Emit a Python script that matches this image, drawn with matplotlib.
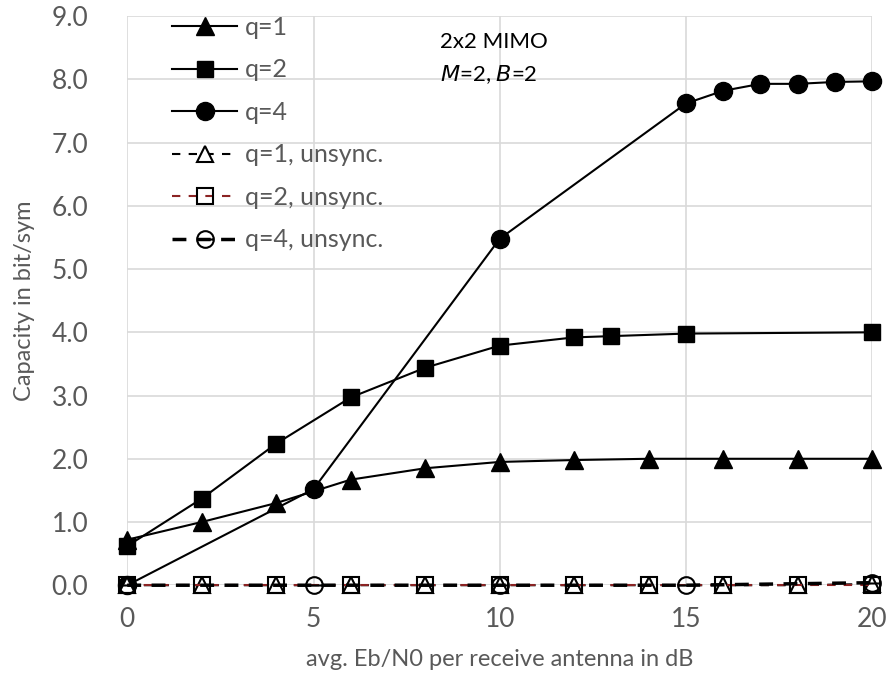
import matplotlib
matplotlib.use("Agg")
import matplotlib.pyplot as plt
from matplotlib.path import Path

plt.rcParams['font.family'] = ['Lato', 'DejaVu Sans']

# data
x_q1 = [0, 2, 4, 6, 8, 10, 12, 14, 16, 18, 20]
y_q1 = [0.72, 1.0, 1.3, 1.67, 1.85, 1.95, 1.98, 2.0, 2.0, 2.0, 2.0]
x_q2 = [0, 2, 4, 6, 8, 10, 12, 13, 15, 20]
y_q2 = [0.62, 1.37, 2.24, 2.97, 3.44, 3.79, 3.92, 3.94, 3.98, 4.0]
x_q4 = [0, 5, 10, 15, 16, 17, 18, 19, 20]
y_q4 = [0.0, 1.52, 5.48, 7.62, 7.82, 7.93, 7.93, 7.96, 7.97]

x_un = [0, 2, 4, 6, 8, 10, 12, 14, 16, 18, 20]
y_q1_un = [0, 0, 0, 0, 0, 0, 0, 0, 0, 0, 0.02]
y_q2_un = [0, 0, 0, 0, 0, 0, 0, 0, 0, 0, 0.0]
x_q4_un = [0, 5, 10, 15, 20]
y_q4_un = [0, 0, 0, 0, 0.04]

grey = '#595959'

# circle with a horizontal bar (hollow)
bar = Path([(-1, 0), (1, 0)], [Path.MOVETO, Path.LINETO])
circ_bar = Path.make_compound_path(Path.unit_circle(), bar)

fig = plt.figure(figsize=(8.9, 6.75), dpi=100)
ax = fig.add_axes([0.143, 0.133, 0.837, 0.843])

ax.plot(x_q1, y_q1, '-', color='black', lw=1.5, marker='^', ms=13, label='q=1', clip_on=False, zorder=5)
ax.plot(x_q2, y_q2, '-', color='black', lw=1.5, marker='s', ms=12, label='q=2', clip_on=False, zorder=5)
ax.plot(x_q4, y_q4, '-', color='black', lw=1.5, marker='o', ms=13, label='q=4', clip_on=False, zorder=5)
ax.plot(x_un, y_q1_un, color='black', lw=1.5, ls=(0, (4, 4)), marker='^', ms=12, mfc='white',
        mec='black', mew=1.5, label='q=1, unsync.', clip_on=False, zorder=6)
ax.plot(x_un, y_q2_un, color='#8b2323', lw=1.5, ls=(0, (4, 4)), marker='s', ms=12, mfc='none',
        mec='black', mew=1.5, label='q=2, unsync.', clip_on=False, zorder=6)
ax.plot(x_q4_un, y_q4_un, color='black', lw=2.5, ls=(0, (4, 3)), marker=circ_bar, ms=12,
        mfc='none', mec='black', mew=1.5, label='q=4, unsync.', clip_on=False, zorder=6)

ax.set_xlim(0, 20)
ax.set_ylim(0, 9)
ax.set_xticks([0, 5, 10, 15, 20])
ax.set_yticks([i for i in range(10)])
ax.set_yticklabels(['%.1f' % i for i in range(10)])
ax.grid(True, color='#d9d9d9', lw=1.2)
ax.set_axisbelow(True)
for s in ax.spines.values():
    s.set_visible(False)
ax.tick_params(axis='y', length=0, labelsize=19, labelcolor=grey, pad=28)
ax.tick_params(axis='x', length=0, labelsize=19, labelcolor=grey, pad=16)

ax.set_xlabel('avg. Eb/N0 per receive antenna in dB', fontsize=17, color=grey, labelpad=12)
ax.set_ylabel('Capacity in bit/sym', fontsize=17, color=grey, labelpad=12)

ax.text(8.4, 8.59, '2x2 MIMO', fontsize=16, color='black', va='center')
ax.text(8.4, 8.07, '$M$=2, $B$=2', fontsize=16, color='black', va='center')

leg = ax.legend(loc='upper left', bbox_to_anchor=(0.03, 1.04), frameon=False, fontsize=18,
                labelcolor=grey, handlelength=2.6, handletextpad=0.3, labelspacing=0.78)

fig.savefig('out.png', dpi=100)
